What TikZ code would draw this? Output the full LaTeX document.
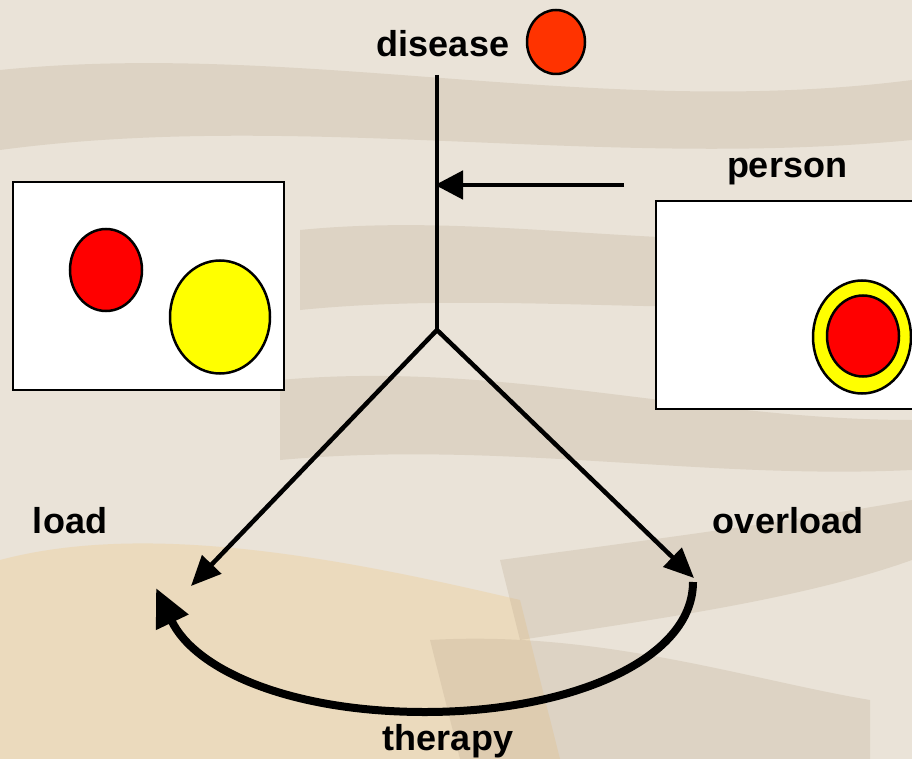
\documentclass[tikz,border=0pt]{standalone}
\usepackage{fontspec}
\setmainfont{Liberation Sans}
\usetikzlibrary{arrows.meta,shapes.geometric}
\definecolor{bgbase}{HTML}{EAE3D8}
\definecolor{bgdark}{HTML}{B8A58A}
\definecolor{bgorange}{HTML}{EFC070}
\definecolor{diseasecol}{HTML}{FF3300}
\definecolor{dotred}{HTML}{FF0000}
\definecolor{ringyellow}{HTML}{FFFF00}
\begin{document}
\begin{tikzpicture}[x=1pt,y=-1pt,
  lbl/.style={font=\fontsize{36}{40}\selectfont\bfseries, inner sep=0pt, anchor=base},
  panel/.style={draw=black, line width=2.5pt, fill=white},
  blob/.style={ellipse, draw=black, line width=2.5pt, inner sep=0pt},
  stem/.style={line width=4.8pt},
  branch/.style={line width=4.5pt, -{Triangle[length=30pt,width=26pt]}},
  push/.style={line width=4.8pt, -{Triangle[length=28pt,width=28pt]}},
  cycle/.style={line width=8pt, -{Triangle[length=38pt,width=34pt]}},
  band/.style={opacity=0.25}]
\useasboundingbox (0,0) rectangle (912,759);
\clip (0,0) rectangle (912,759);
% photographic background, approximated
\fill[bgbase] (0,0) rectangle (912,759);
\fill[bgdark, band] (0,70) .. controls (300,40) and (600,120) .. (912,80) -- (912,140) .. controls (600,170) and (300,110) .. (0,150) -- cycle;
\fill[bgdark, band] (300,230) .. controls (500,210) and (700,260) .. (912,230) -- (912,300) .. controls (700,320) and (500,290) .. (300,310) -- cycle;
\fill[bgdark, band] (280,380) .. controls (500,360) and (700,420) .. (912,420) -- (912,470) .. controls (700,480) and (500,440) .. (280,460) -- cycle;
\fill[bgorange, band] (0,560) .. controls (150,520) and (350,560) .. (520,600) -- (560,759) -- (0,759) -- cycle;
\fill[bgdark, band] (500,560) .. controls (650,540) and (800,520) .. (912,500) -- (912,560) .. controls (800,600) and (650,620) .. (520,640) -- cycle;
\fill[bgdark, band] (430,640) .. controls (600,630) and (750,680) .. (870,700) -- (870,759) -- (460,759) -- cycle;

% panels
\node[panel, minimum width=271pt, minimum height=208pt] (leftbox) at (148.5,286) {};
\node[blob, fill=dotred, minimum width=72pt, minimum height=82pt] (freedot) at (106,270) {};
\node[blob, fill=ringyellow, minimum width=100pt, minimum height=113pt] (freering) at (220,317) {};
\draw[panel] (656,201) rectangle (930,409);
\node[blob, fill=ringyellow, minimum width=98pt, minimum height=113pt] (outerring) at (862,337) {};
\node[blob, fill=dotred, minimum width=72pt, minimum height=81pt] (innerdot) at (863,336) {};

% labels
\node[lbl] (disease) at (443,57) {disease};
\node[blob, fill=diseasecol, minimum width=58pt, minimum height=64pt] (diseasedot) at (556,42) {};
\node[lbl] (person) at (787,178) {person};
\node[lbl] (load) at (70,533) {load};
\node[lbl] (overload) at (788,533) {overload};
\node[lbl] (therapy) at (448,750) {therapy};

% connectors
\coordinate (top) at (437,75);
\coordinate (fork) at (437,330);
\coordinate (personstart) at (624,185);
\coordinate (personhit) at (435,185);
\coordinate (loadend) at (191,586);
\coordinate (overloadend) at (694,578);
\coordinate (cyclestart) at (693,582);
\coordinate (cyclebottom) at (425,712);
\coordinate (cycleend) at (156,588);
\draw[stem] (top) -- (fork);
\draw[push] (personstart) -- (personhit);
\draw[branch] (fork) -- (loadend);
\draw[branch] (fork) -- (overloadend);
\draw[cycle] (cyclestart) .. controls (693,660) and (570,712) .. (cyclebottom)
  .. controls (290,712) and (195,670) .. (cycleend);
\end{tikzpicture}
\end{document}
